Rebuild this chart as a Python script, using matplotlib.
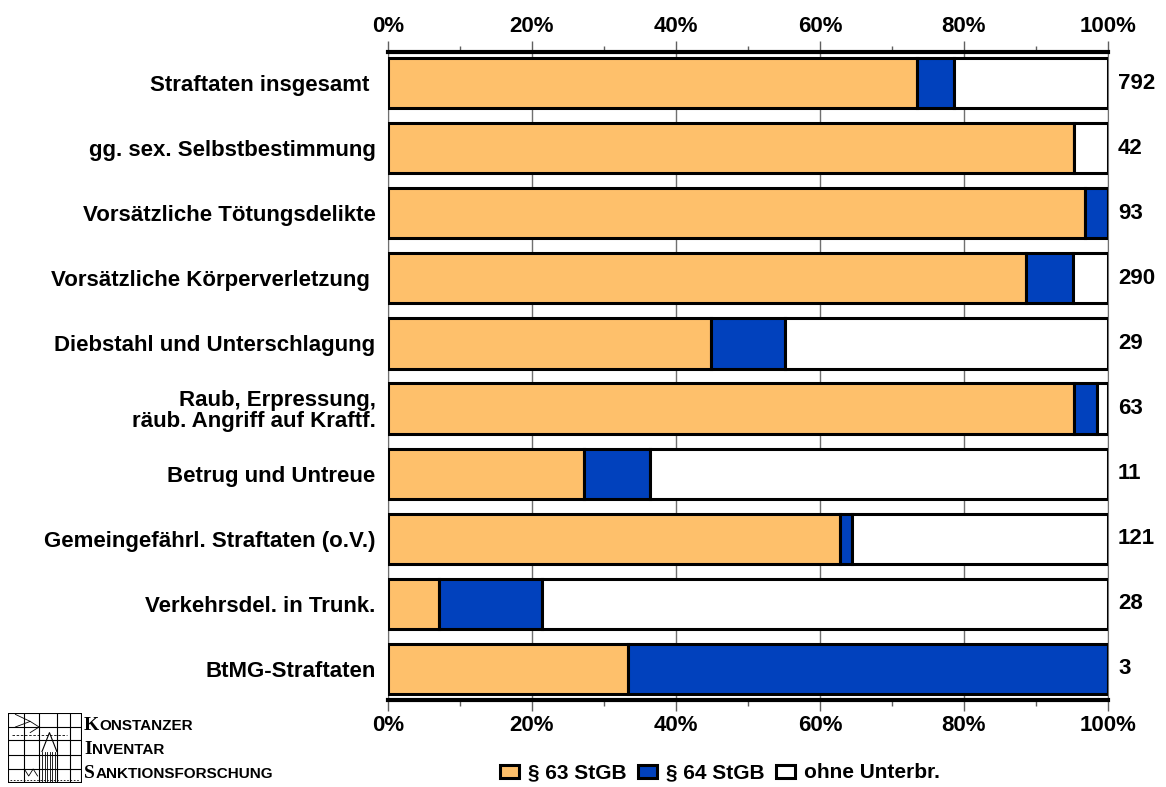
import numpy as np
import matplotlib
matplotlib.use("Agg")
import matplotlib.pyplot as plt
from matplotlib.patches import Patch, Rectangle

plt.rcParams['font.family'] = ['Liberation Sans', 'DejaVu Sans']
plt.rcParams['font.weight'] = 'bold'

# Daten: Anzahl je Deliktsgruppe
kategorien = ['Straftaten insgesamt ', 'gg. sex. Selbstbestimmung',
              'Vorsätzliche Tötungsdelikte', 'Vorsätzliche Körperverletzung ',
              'Diebstahl und Unterschlagung',
              'Raub, Erpressung,\nräub. Angriff auf Kraftf.',
              'Betrug und Untreue', 'Gemeingefährl. Straftaten (o.V.)',
              'Verkehrsdel. in Trunk.', 'BtMG-Straftaten']
gesamt = [792, 42, 93, 290, 29, 63, 11, 121, 28, 3]
n63 = [582, 40, 90, 257, 13, 60, 3, 76, 2, 1]
n64 = [41, 0, 3, 19, 3, 2, 1, 2, 4, 2]
serien = ['§ 63 StGB', '§ 64 StGB', 'ohne Unterbr.']
farben = ['#FEC06B', '#0141BD', '#FFFFFF']
ticks = [0, 20, 40, 60, 80, 100]

FS = 16

gesamt = np.array(gesamt, dtype=float)
p63 = np.array(n63) / gesamt * 100
p64 = np.array(n64) / gesamt * 100
pohne = 100 - p63 - p64

fig = plt.figure(figsize=(11.66, 7.87), dpi=100)
ax = fig.add_axes([388/1166, 87/787, 720/1166, 648/787])

y = np.arange(len(kategorien))
links = np.zeros(len(kategorien))
for werte, farbe in zip([p63, p64, pohne], farben):
    ax.barh(y, werte, left=links, height=0.77, color=farbe,
            edgecolor='black', linewidth=2.2, zorder=3)
    links = links + werte

ax.set_xlim(0, 100)
ax.set_ylim(len(kategorien) - 0.52, -0.48)
ax.set_yticks(y)
ax.set_yticklabels(kategorien, fontsize=FS, fontweight='bold', linespacing=1.0)
ax.tick_params(axis='y', length=0, pad=9)

ax.set_xticks(ticks)
ax.set_xticks(np.arange(0, 101, 10), minor=True)
ax.set_xticklabels([f'{t}%' for t in ticks], fontsize=FS, fontweight='bold')
ax.tick_params(axis='x', which='both', top=True, labeltop=True, direction='out',
               color='#606060', width=1.0)
ax.tick_params(axis='x', which='major', length=8, pad=3)
ax.tick_params(axis='x', which='minor', length=4.5)
ax.grid(axis='x', color='#707070', linewidth=1.0, zorder=0)

ax.spines['top'].set_linewidth(3)
ax.spines['bottom'].set_linewidth(3)
ax.spines['left'].set_color('#707070')
ax.spines['right'].set_color('#707070')

for yi, n in zip(y, gesamt):
    ax.text(101.4, yi, f'{int(n)}', va='center', ha='left', fontsize=FS,
            fontweight='bold', clip_on=False)

handles = [Patch(facecolor=f, edgecolor='black', linewidth=2.2) for f in farben]
fig.legend(handles, serien, loc='center', bbox_to_anchor=(720/1166, 1 - 773/787),
           ncol=3, frameon=False, prop={'weight': 'bold', 'size': 15},
           handlelength=0.9, handleheight=0.6, handletextpad=0.45, columnspacing=0.55)

# Logo unten links
lg = fig.add_axes([8/1166, 4/787, 74/1166, 70/787])
lg.set_xlim(0, 10)
lg.set_ylim(0, 10)
lg.axis('off')
lg.add_patch(Rectangle((0, 0), 10, 10, fill=False, lw=1.5, color='black'))
for xv in [2.2, 4.2, 6.6, 8.4]:
    lg.plot([xv, xv], [0, 10], color='black', lw=0.8)
for yv in [2.0, 4.0, 6.2, 8.0]:
    lg.plot([0, 10], [yv, yv], color='black', lw=0.8)
lg.plot([4.6, 5.6, 6.6], [4.5, 7.2, 4.5], color='black', lw=0.8)
for xv in np.arange(4.6, 6.6, 0.35):
    lg.plot([xv, xv], [0, 4.5], color='black', lw=0.6)
lg.plot([2.2, 2.8, 3.4, 4.0], [2.0, 1.0, 2.0, 1.0], color='black', lw=0.6)
lg.plot([0.3, 9.7], [0.4, 0.4], color='black', lw=0.6, ls=(0, (2, 2)))
lg.plot([1.0, 3.0, 1.0], [9.8, 8.8, 8.0], color='black', lw=0.6)
lg.plot([3.0, 4.2, 3.0], [8.8, 8.0, 7.2], color='black', lw=0.6)
lg.plot([0.5, 8.0], [6.8, 6.8], color='black', lw=0.6, ls=(0, (3, 2)))

renderer = fig.canvas.get_renderer()
for zeile, (erster, rest) in enumerate([('K', 'ONSTANZER'), ('I', 'NVENTAR'),
                                        ('S', 'ANKTIONSFORSCHUNG')]):
    ypos = 1 - (730 + zeile * 24) / 787
    t = fig.text(84/1166, ypos, erster, fontsize=14, fontweight='bold',
                 family='Liberation Serif', va='baseline', ha='left')
    bb = t.get_window_extent(renderer)
    fig.text(bb.x1 / 1166 + 0.0005, ypos, rest, fontsize=11,
             fontweight='bold', va='baseline', ha='left')

fig.savefig('out.png', dpi=100)
